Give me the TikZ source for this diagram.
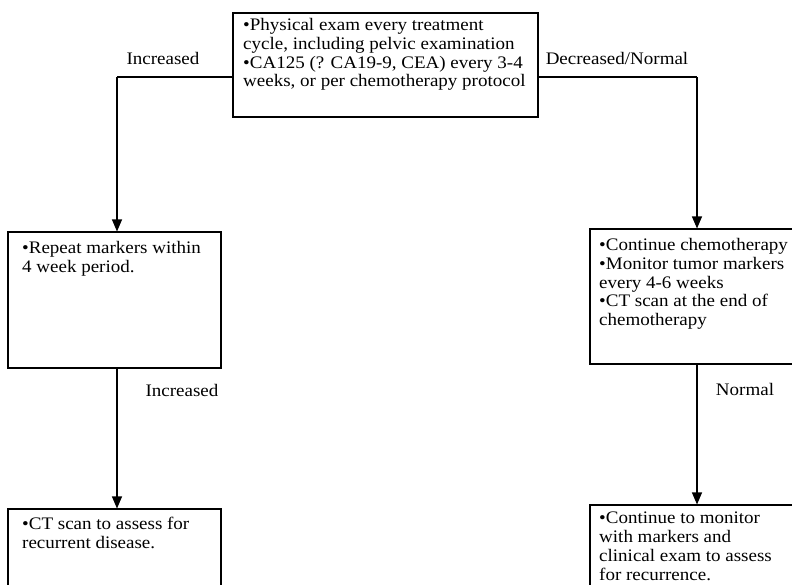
\documentclass[tikz,border=0pt]{standalone}
\usepackage{fontspec}
\setmainfont[FakeStretch=1.08]{Liberation Serif}
\usetikzlibrary{arrows.meta}
\tikzset{
  box/.style={draw, line width=1.1pt, rectangle, inner sep=0pt},
  txt/.style={anchor=north west, inner sep=0pt, align=left, font=\fontsize{17.6}{18.8}\selectfont},
  lbl/.style={inner sep=0pt, font=\fontsize{17.6}{18.8}\selectfont},
  arr/.style={line width=1.1pt, -{Triangle[length=12pt,width=10pt]}},
  ln/.style={line width=1.1pt}
}
\begin{document}
\begin{tikzpicture}[x=1pt,y=-1pt]
\useasboundingbox (0,0) rectangle (792,584);
\clip (0,0) rectangle (792,584);
% boxes
\node[box, minimum width=305pt, minimum height=104pt] (top) at (385.5,65) {};
\node[box, minimum width=213pt, minimum height=136pt] (lbox) at (114.5,300) {};
\node[box, minimum width=213pt, minimum height=110pt] (lbbox) at (114.5,564) {};
\node[box, minimum width=230pt, minimum height=135pt] (rbox) at (705,296.5) {};
\node[box, minimum width=230pt, minimum height=110pt] (rbbox) at (705,560) {};
% texts
\node[txt] (toptxt) at (243,18) {•Physical exam every treatment\\cycle, including pelvic examination\\•CA125 (? CA19-9, CEA) every 3-4\\weeks, or per chemotherapy protocol};
\node[txt] (ltxt) at (22,241) {•Repeat markers within\\4 week period.};
\node[txt] (lbtxt) at (22,517) {•CT scan to assess for\\recurrent disease.};
\node[txt] (rtxt) at (599,238) {•Continue chemotherapy\\•Monitor tumor markers\\every 4-6 weeks\\•CT scan at the end of\\chemotherapy};
\node[txt] (rbtxt) at (599,512) {•Continue to monitor\\with markers and\\clinical exam to assess\\for recurrence.};
% corner coordinates
\coordinate (lc) at (117,77);
\coordinate (rc) at (697,77);
\coordinate (ltop) at (233,77);
\coordinate (rtop) at (538,77);
% connectors
\draw[ln] (ltop) -- (lc);
\draw[arr] (lc) -- (lc |- lbox.north);
\draw[arr] (lc |- lbox.south) -- (lc |- lbbox.north);
\draw[ln] (rtop) -- (rc);
\draw[arr] (rc) -- (rc |- rbox.north);
\draw[arr] (rc |- rbox.south) -- (rc |- rbbox.north);
% labels
\node[lbl] (l1) at (163,58) {Increased};
\node[lbl] (l2) at (617,58) {Decreased/Normal};
\node[lbl] (l3) at (182,390) {Increased};
\node[lbl] (l4) at (745,389) {Normal};
\end{tikzpicture}
\end{document}
